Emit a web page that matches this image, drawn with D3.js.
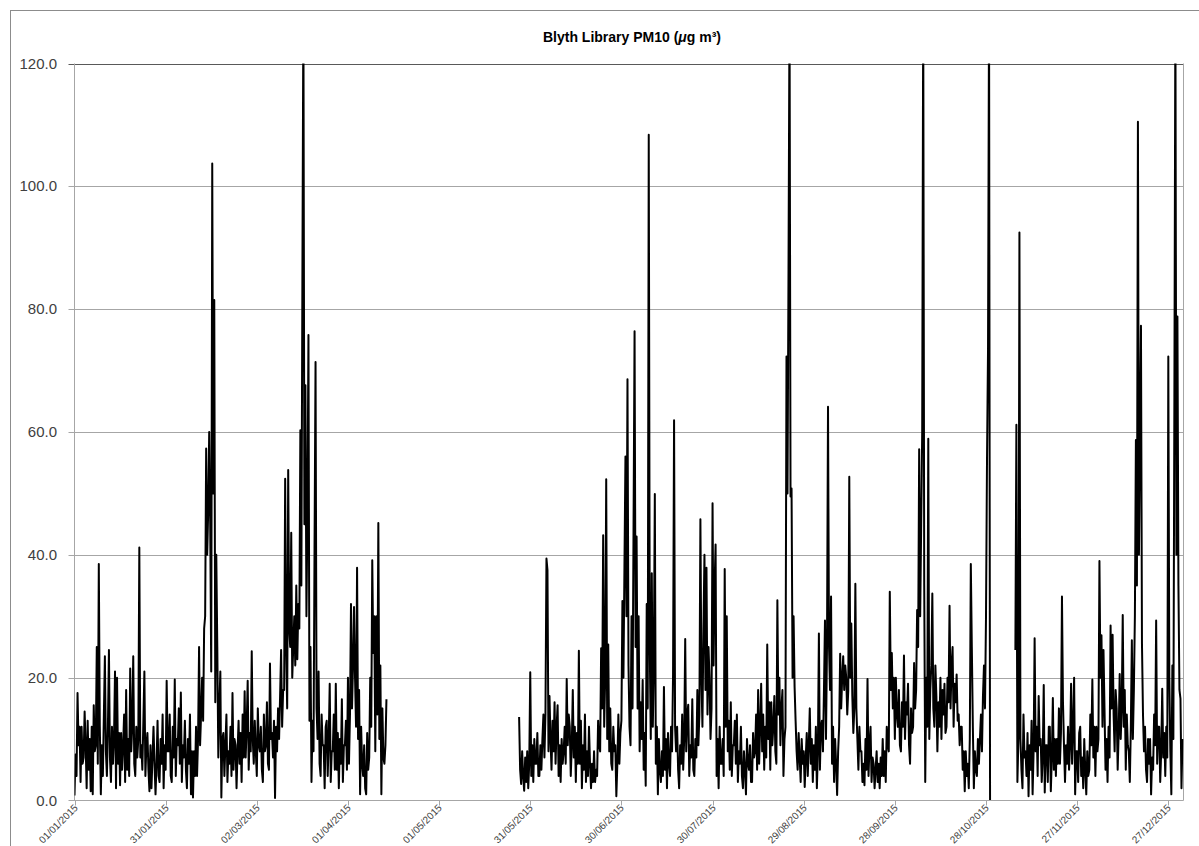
<!DOCTYPE html>
<html>
<head>
<meta charset="utf-8">
<script src="https://cdn.jsdelivr.net/npm/d3@7"></script>
<style>
  body { margin: 0; background: #fff; }
  text { font-family: "Liberation Sans", Arial, sans-serif; }
</style>
</head>
<body>
<svg id="chart" width="1199" height="846"></svg>
<script>
// y axis ticks and x axis labels (every 30 days, as in the source)
const yTicks = [0, 20, 40, 60, 80, 100, 120];
const xTickLabels = ["01/01/2015", "31/01/2015", "02/03/2015", "01/04/2015", "01/05/2015", "31/05/2015",
    "30/06/2015", "30/07/2015", "29/08/2015", "28/09/2015", "28/10/2015", "27/11/2015", "27/12/2015"];

// PM10 readings, three per day (00:00, 08:00, 16:00)
const jan = [0.8, 7.5, 4, 17.5, 9, 12, 3, 12, 6, 7, 14.5, 9, 2, 13, 5, 10, 1.5, 12, 1, 15.5, 8,
    9, 25, 6, 38.5, 12, 1, 9, 4, 14, 23.5, 8, 4, 12, 24.5, 7, 3, 12, 6, 10, 21, 2,
    20, 6, 11, 2.5, 11, 5, 9, 14, 3, 18, 5, 10, 4, 21.5, 8, 12, 23.5, 6, 4, 12, 7,
    10, 41.2, 7, 9, 5, 13, 21, 4, 9, 11, 5, 1.5, 9, 2, 7, 12, 6, 1, 6, 13, 4,
    3, 10, 6, 14, 2, 9, 5, 19.5, 8];
const feb = [8, 14, 4, 3, 12, 7, 19.7, 4, 10, 9, 15, 6, 17.6, 3, 9, 7, 13, 5, 2, 10, 6,
    14, 1, 8, 0.5, 8, 4, 12, 4, 10, 25, 9, 14, 20, 13, 28, 30, 57.3, 40, 47, 60, 45,
    21, 103.7, 50, 81.5, 16, 40, 25, 7, 15, 21, 0.5, 10, 11, 4, 9, 14, 3, 8, 6, 12, 4,
    17.5, 5, 10, 9, 2, 8, 13, 6, 11, 3, 14, 7, 17.8, 7, 12, 19.5, 5, 11, 8, 24.3, 10];
const mar = [6, 13, 8, 4, 15, 9, 8, 12, 5, 3, 14, 8, 9, 16, 6, 5, 22.3, 10, 11, 7, 13,
    0.4, 12, 8, 15, 10, 17, 24.5, 12, 18, 18, 52.4, 25, 15, 53.8, 28, 25, 43.6, 20, 25, 30, 22,
    35, 23, 32, 28, 60.3, 35, 84.2, 130, 45, 67.6, 30, 47, 75.8, 13, 25, 3, 13, 8, 41, 71.4, 15,
    10, 21, 6, 4, 14, 9, 9, 2, 12, 13, 4, 10, 19, 3, 8, 8, 14, 5, 19, 5, 11,
    2, 10, 6, 16.5, 3, 9, 9, 13, 5];
const apr = [20, 6, 14, 32, 15, 22, 31.5, 20, 12, 37.9, 10, 18, 1, 12, 6, 4, 9, 2, 1, 11, 5,
    7, 20, 12, 39.1, 24, 30, 8, 30, 14, 45.2, 10, 22, 1, 15, 7, 6, 9, 16.5];
const may = [13.6, 5, 2.7, 8, 4, 1.6, 7, 3, 8, 2, 6, 20.9, 4, 9];
const jun = [3, 10, 6, 6, 11, 4, 4, 9, 5, 10, 14, 7, 14, 39.4, 37.5, 8, 17, 10, 5, 13, 8,
    16, 6, 12, 15.5, 4, 9, 3, 10, 6, 8, 12, 6, 19.8, 9, 14, 12, 4, 9, 18, 7, 12,
    3, 11, 6, 24.4, 6, 13, 2, 9, 5, 14, 3, 8, 4, 12, 6, 2, 6, 3, 8, 3, 5,
    4, 13, 9, 8, 24.8, 15, 43.2, 12, 20, 52.3, 10, 25.4, 8, 15, 6, 5, 12, 8, 9, 0.7, 6,
    14, 6, 11, 13, 32.5, 20];
const jul = [38, 56, 30, 68.6, 22, 12, 9, 30, 15, 45, 76.4, 25, 43, 15, 30, 8, 16, 10, 19.6, 5, 11,
    2.4, 32, 15, 108.4, 25, 10, 37, 12, 22, 49.9, 6, 12, 1, 10, 5, 3, 8, 4, 18.5, 5, 10,
    2, 11, 6, 4, 12, 8, 20.5, 61.9, 12, 8, 12, 5, 2, 9, 6, 14, 5, 10, 26.3, 8, 14,
    15.6, 4, 9, 7, 16.5, 5, 4, 10, 7, 18, 9, 14, 45.8, 20, 12, 28, 40, 18, 37.9, 14, 25,
    20, 10, 15, 48.4, 22, 35, 41.7, 4, 10];
const aug = [2, 12, 6, 6, 10, 4, 37.7, 12, 30, 8, 13, 5, 16, 4, 9, 9, 13, 6, 14, 3, 8,
    6, 12, 4, 2, 8, 5, 1, 10, 6, 5, 9, 3, 3, 11, 7, 8, 14, 5, 18, 6, 12,
    19, 8, 14, 5, 12, 7, 25.4, 10, 16, 5, 16, 9, 12, 17, 8, 6, 32.6, 14, 20, 9, 15,
    18, 4, 10, 12, 72.3, 50, 86.5, 130, 49.5, 50.8, 20, 30, 18.5, 13, 8, 5, 11, 7, 3, 10, 6,
    8, 2.2, 7, 11, 4, 9, 15, 6, 10];
const sep = [3, 9, 5, 12, 2, 8, 27.2, 5, 12, 13, 8, 18, 29.3, 10, 25, 64.1, 25, 18, 33.2, 6, 12,
    3, 10, 6, 0.9, 8, 12, 23.9, 15, 20, 23.5, 18, 22, 20, 14, 18, 52.7, 20, 28.8, 17, 11, 15,
    35.3, 15, 10, 5, 12, 8, 8, 3, 6, 2.5, 10, 5, 19.8, 4, 9, 12, 3, 7, 6, 2, 5,
    8, 3, 6, 2, 7, 4, 10, 4, 8, 3, 12, 9, 8, 34, 18, 24, 15, 20, 10, 20, 14,
    12, 18, 9, 8, 16, 12];
const oct = [23.6, 10, 16, 14, 19, 9, 6, 15, 11, 12, 22.4, 15, 18, 31, 25, 57.2, 30, 45, 60, 130, 35,
    3, 20, 12, 58.9, 10, 18, 22, 33.7, 15, 12, 22, 17, 8, 16, 12, 20, 10, 18, 14, 19, 11,
    12, 20, 16, 31.7, 15, 22, 25, 12, 19, 16, 20.5, 13, 14, 9, 12, 12, 5, 8, 1.5, 8, 4,
    6, 2, 10, 38.5, 25, 12, 2, 8, 5, 4, 10, 6, 10, 14, 8, 17, 22, 15, 30, 55.8, 73.6,
    130, 0];
const nov = [24.5, 61.2, 3, 10, 92.5, 10, 5, 2, 14, 7, 8, 4, 11, 0.7, 9, 5, 13, 1, 8,
    26.4, 8, 12, 4, 17, 9, 10, 3, 7, 18.8, 1.3, 9, 9, 3, 12, 12, 1.5, 7, 16.7, 5, 10,
    4, 10, 6, 15, 6, 11, 33.2, 16, 9, 3, 9, 6, 12, 5, 9, 19, 6, 12, 20, 1, 8,
    8, 3, 11, 12, 4, 7, 2, 10, 5, 1, 8, 4];
const dec = [5, 14, 9, 19.7, 7, 12, 4, 12, 8, 10, 39, 20, 26.9, 12, 24.5, 15, 5, 10, 3, 12, 7,
    28.5, 15, 27, 14, 8, 18, 15, 5, 11, 20.6, 10, 15, 30.2, 12, 18, 5, 14, 9, 8, 3, 12,
    26.1, 10, 18, 30, 58.7, 35, 110.5, 40, 60, 77.3, 25.5, 14, 8, 12, 5, 3, 10, 6, 10, 1, 7,
    5, 14, 9, 29.3, 6, 12, 12, 3, 8, 18.2, 7, 11, 4, 12, 7, 72.3, 20, 8, 1, 22, 10,
    65.8, 130, 40, 78.8, 35, 18, 16.6, 2, 10];

// time of the first reading in each block (readings are missing where blocks don't join up)
const blockStarts = ["2015-01-01T00:00Z", "2015-02-01T00:00Z", "2015-03-01T00:00Z", "2015-04-01T00:00Z",
    "2015-05-27T08:00Z", "2015-06-01T00:00Z", "2015-07-01T00:00Z", "2015-08-01T00:00Z",
    "2015-09-01T00:00Z", "2015-10-01T00:00Z", "2015-11-06T16:00Z", "2015-12-01T00:00Z"];
const blocks = [jan, feb, mar, apr, may, jun, jul, aug, sep, oct, nov, dec];

const STEP = 8 * 3600 * 1000;

var svg = d3.select("#chart");
var margin = { left: 74.5, right: 1183.5, top: 63.5, bottom: 800.5 };

// build the point list, with a break wherever readings are missing
var points = [];
blocks.forEach(function (vals, i) {
    var start = Date.parse(blockStarts[i]);
    if (points.length) {
        var last = points[points.length - 1];
        if (last.t && start - last.t.getTime() > STEP) points.push({ t: null, v: null });
    }
    vals.forEach(function (v, k) {
        points.push({ t: new Date(start + k * STEP), v: v });
    });
});

var x = d3.scaleUtc()
    .domain([new Date(Date.UTC(2015, 0, 1)), new Date(Date.UTC(2016, 0, 1))])
    .range([margin.left, margin.right]);

var y = d3.scaleLinear()
    .domain([0, 120])
    .range([margin.bottom, margin.top]);

var parseTick = d3.utcParse("%d/%m/%Y");

// outer chart border
svg.append("rect")
    .attr("x", 10.5).attr("y", 10.5)
    .attr("width", 1300).attr("height", 1000)
    .attr("fill", "none")
    .attr("stroke", "#8c8c8c");

// title
var title = svg.append("text")
    .attr("x", 632).attr("y", 42)
    .attr("text-anchor", "middle")
    .attr("font-size", 14)
    .attr("font-weight", "bold")
    .attr("fill", "#000");
title.append("tspan").text("Blyth Library PM10 (");
title.append("tspan").attr("font-style", "italic").text("\u03BC");
title.append("tspan").text("g m\u00B3)");

// gridlines
svg.append("g")
    .selectAll("line")
    .data(yTicks.filter(d => d > 0))
    .enter()
    .append("line")
    .attr("x1", margin.left - 6)
    .attr("x2", margin.right)
    .attr("y1", d => Math.round(y(d)) + 0.5)
    .attr("y2", d => Math.round(y(d)) + 0.5)
    .attr("stroke", d => d === 120 ? "#595959" : "#a6a6a6")
    .attr("stroke-width", 1);

// y axis
svg.append("line")
    .attr("x1", margin.left).attr("x2", margin.left)
    .attr("y1", margin.top).attr("y2", margin.bottom)
    .attr("stroke", "#a6a6a6");

svg.append("line")
    .attr("x1", margin.right).attr("x2", margin.right)
    .attr("y1", margin.top).attr("y2", margin.bottom)
    .attr("stroke", "#a6a6a6");

svg.append("g")
    .selectAll("text")
    .data(yTicks)
    .enter()
    .append("text")
    .attr("x", 57)
    .attr("y", d => y(d) + 5)
    .attr("text-anchor", "end")
    .attr("font-size", 15)
    .attr("fill", "#404040")
    .text(d => d.toFixed(1));

// data line, clipped at 120
svg.append("clipPath")
    .attr("id", "plot-clip")
    .append("rect")
    .attr("x", margin.left).attr("y", margin.top)
    .attr("width", margin.right - margin.left)
    .attr("height", margin.bottom - margin.top);

var line = d3.line()
    .defined(d => d.v !== null)
    .x(d => x(d.t))
    .y(d => y(d.v));

svg.append("path")
    .datum(points)
    .attr("clip-path", "url(#plot-clip)")
    .attr("fill", "none")
    .attr("stroke", "#000")
    .attr("stroke-width", 2)
    .attr("stroke-linejoin", "round")
    .attr("d", line);

// x axis
svg.append("line")
    .attr("x1", margin.left - 6).attr("x2", margin.right)
    .attr("y1", margin.bottom).attr("y2", margin.bottom)
    .attr("stroke", "#a6a6a6");

var xTicks = svg.append("g")
    .selectAll("g")
    .data(xTickLabels)
    .enter()
    .append("g")
    .attr("transform", d => "translate(" + Math.round(x(parseTick(d))) + ".5," + margin.bottom + ")");

xTicks.append("line")
    .attr("y1", 0).attr("y2", 5)
    .attr("stroke", "#a6a6a6");

xTicks.append("text")
    .attr("transform", "translate(3,8) rotate(-45)")
    .attr("text-anchor", "end")
    .attr("font-size", 10)
    .attr("fill", "#404040")
    .text(d => d);
</script>
</body>
</html>
